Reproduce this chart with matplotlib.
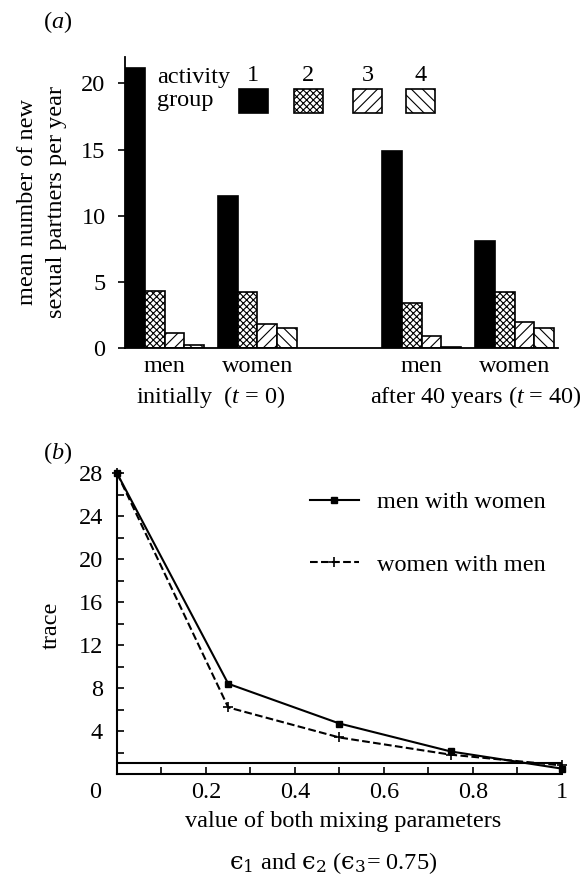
import numpy as np
import matplotlib
matplotlib.use("Agg")
import matplotlib.pyplot as plt
from matplotlib.patches import Rectangle

plt.rcParams["font.family"] = ["Liberation Serif", "DejaVu Serif"]
plt.rcParams["mathtext.fontset"] = "custom"
plt.rcParams["mathtext.rm"] = "Liberation Serif"
plt.rcParams["mathtext.it"] = "Liberation Serif:italic"
plt.rcParams["hatch.linewidth"] = 0.8
plt.rcParams["font.size"] = 17.5

# panel (a): mean number of new sexual partners per year by activity group
group_labels = ["men", "women", "men", "women"]
period_labels = ["initially  ($t$ = 0)", "after 40 years ($t$ = 40)"]
activity_1 = [21.2, 11.5, 14.9, 8.1]
activity_2 = [4.3, 4.2, 3.4, 4.2]
activity_3 = [1.1, 1.8, 0.9, 1.95]
activity_4 = [0.2, 1.5, 0.1, 1.5]

# panel (b): trace vs. mixing parameters
mixing = [0.0, 0.25, 0.5, 0.75, 1.0]
men_with_women = [28.0, 8.4, 4.7, 2.1, 0.5]
women_with_men = [28.0, 6.2, 3.4, 1.8, 0.8]
threshold = 1.0

hatches = [None, "xxxxx", "///", "\\\\\\"]
colors = ["black", "white", "white", "white"]


def panel_a(fig):
    ax = fig.add_axes([0.2148, 0.6023, 0.744, 0.3326])
    starts = np.array([0.0, 4.7, 13.0, 17.7])
    series = [activity_1, activity_2, activity_3, activity_4]
    for k, vals in enumerate(series):
        ax.bar(starts + k + 0.5, vals, width=1.0, color=colors[k],
               edgecolor="black", linewidth=1.2, hatch=hatches[k])
    ax.set_xlim(0, 21.9)
    ax.set_ylim(0, 22)
    ax.set_yticks([0, 5, 10, 15, 20])
    ax.tick_params(axis="y", direction="out", length=5, width=1.2, pad=9)
    centers = starts + 2
    ax.set_xticks(centers)
    ax.set_xticklabels(group_labels)
    ax.tick_params(axis="x", length=0, pad=6)
    shift = [0.0, 0.4]
    for i, lab in enumerate(period_labels):
        xc = (centers[2 * i] + centers[2 * i + 1]) / 2 + shift[i]
        ax.text(xc, -0.168, lab, transform=ax.get_xaxis_transform(),
                ha="center", va="center")
    for s in ["top", "right"]:
        ax.spines[s].set_visible(False)
    ax.spines["left"].set_linewidth(1.3)
    ax.spines["bottom"].set_linewidth(1.3)
    ax.set_ylabel("mean number of new\nsexual partners per year", linespacing=1.5)
    ax.yaxis.set_label_coords(-0.135, 0.5)

    # legend drawn by hand
    ax.text(0.074, 0.931, "activity", transform=ax.transAxes, va="center")
    ax.text(0.074, 0.849, "group", transform=ax.transAxes, va="center")
    sq_x = [0.263, 0.390, 0.527, 0.649]
    for k in range(4):
        ax.add_patch(Rectangle((sq_x[k], 0.808), 0.067, 0.082, transform=ax.transAxes,
                               facecolor=colors[k], edgecolor="black", linewidth=1.2,
                               hatch=hatches[k], clip_on=False))
        ax.text(sq_x[k] + 0.0335, 0.935, str(k + 1), transform=ax.transAxes,
                ha="center", va="center")
    fig.text(0.099, 0.975, "($a$)", ha="center", va="center")


def panel_b(fig):
    ax = fig.add_axes([0.201, 0.1154, 0.7646, 0.3463])
    ax.plot(mixing, men_with_women, "-", color="black", linewidth=1.5,
            marker="s", markersize=5, label="men with women", clip_on=False)
    ax.plot(mixing, women_with_men, "--", color="black", linewidth=1.5,
            marker="+", markersize=7, markeredgewidth=1.2,
            label="women with men", clip_on=False)
    ax.axhline(threshold, color="black", linewidth=1.5)
    ax.set_xlim(0, 1)
    ax.set_ylim(0, 28.2)
    ax.set_yticks(np.arange(4, 29, 4))
    ax.set_yticks(np.arange(2, 28, 4), minor=True)
    ax.set_xticks([0.2, 0.4, 0.6, 0.8, 1.0])
    ax.set_xticklabels(["0.2", "0.4", "0.6", "0.8", "1"])
    ax.set_xticks(np.arange(0.1, 1.0, 0.2), minor=True)
    ax.tick_params(which="both", direction="in", length=5, width=1.2)
    ax.tick_params(axis="y", which="major", pad=10)
    ax.tick_params(axis="x", which="major", pad=6)
    for s in ["top", "right"]:
        ax.spines[s].set_visible(False)
    ax.spines["left"].set_linewidth(1.5)
    ax.spines["bottom"].set_linewidth(1.5)
    ax.text(-0.05, -0.06, "0", transform=ax.transAxes, ha="center", va="center")
    ax.set_ylabel("trace")
    ax.yaxis.set_label_coords(-0.124, 0.49)
    ax.text(0.508, -0.158, "value of both mixing parameters", transform=ax.transAxes,
            ha="center", va="center")
    ax.text(0.485, -0.294,
            r"$\mathrm{ϵ}_1$ and $\mathrm{ϵ}_2$ ($\mathrm{ϵ}_3$= 0.75)",
            transform=ax.transAxes, ha="center", va="center",
            math_fontfamily="dejavuserif")
    ax.legend(loc="upper left", bbox_to_anchor=(0.385, 1.005), frameon=False,
              handlelength=2.0, labelspacing=1.65, handletextpad=0.75)
    fig.text(0.099, 0.482, "($b$)", ha="center", va="center")


def main():
    fig = plt.figure(figsize=(5.82, 8.75), dpi=100)
    panel_a(fig)
    panel_b(fig)
    fig.savefig("out.png", dpi=100)


if __name__ == "__main__":
    main()
